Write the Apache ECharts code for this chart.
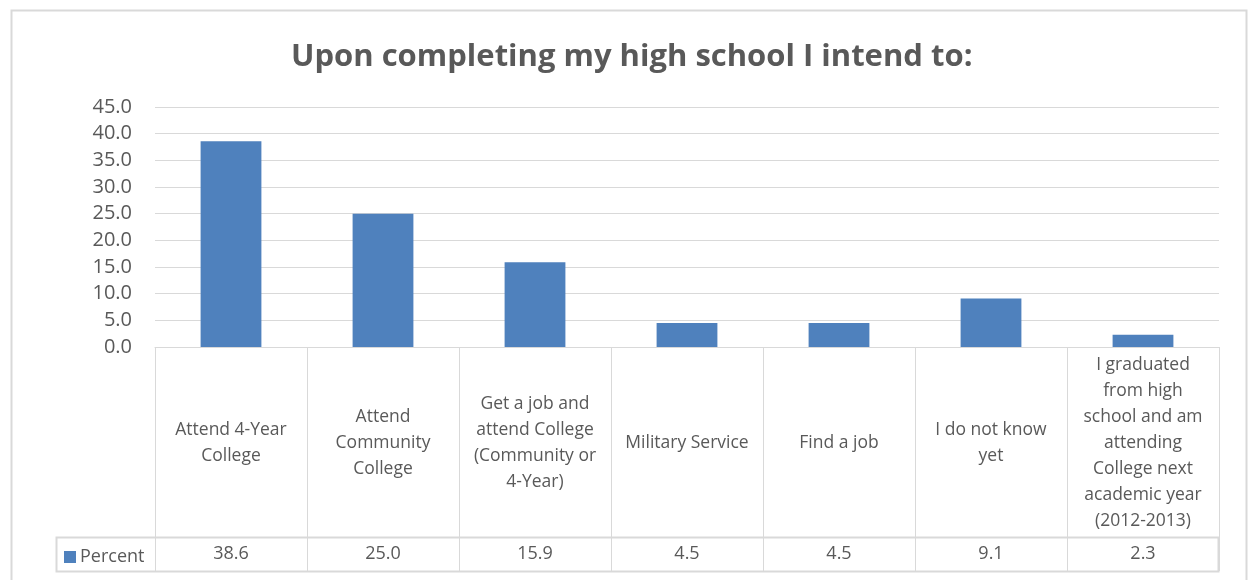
<!DOCTYPE html>
<html>
<head>
<meta charset="utf-8">
<script src="https://cdn.jsdelivr.net/npm/echarts@6/dist/echarts.min.js"></script>
<style>
    html, body { margin: 0; padding: 0; background: #fff; }
    #chart { width: 1248px; height: 580px; }
</style>
</head>
<body>
<div id="chart"></div>
<script>
// data
var categories = [
    'Attend 4-Year\nCollege',
    'Attend\nCommunity\nCollege',
    'Get a job and\nattend College\n(Community or\n4-Year)',
    'Military Service',
    'Find a job',
    'I do not know\nyet',
    'I graduated\nfrom high\nschool and am\nattending\nCollege next\nacademic year\n(2012-2013)'
];
var percent = [38.6, 25.0, 15.9, 4.5, 4.5, 9.1, 2.3];
var yTicks = [0, 5, 10, 15, 20, 25, 30, 35, 40, 45];

var textColor = '#595959';
var lineColor = '#d9d9d9';
var font = '"Open Sans", sans-serif';

var chart = echarts.init(document.getElementById('chart'));

chart.setOption({
    animation: false,
    title: {
        text: 'Upon completing my high school I intend to:',
        left: 286,
        top: 37,
        textStyle: {
            fontFamily: font,
            fontSize: 31,
            fontWeight: 'bold',
            color: textColor
        }
    },
    legend: {
        data: ['Percent'],
        left: 59,
        top: 543,
        icon: 'rect',
        itemWidth: 12,
        itemHeight: 12,
        itemGap: 4,
        textStyle: { fontFamily: font, fontSize: 18, color: textColor, padding: [0, 0, 0, -1] }
    },
    grid: { left: 155, right: 29, top: 107, bottom: 233 },
    xAxis: [
        {
            type: 'category',
            data: categories,
            axisLine: { show: true, lineStyle: { color: lineColor, width: 1 } },
            axisTick: { show: true, alignWithLabel: false, length: 224, lineStyle: { color: lineColor, width: 1 } },
            axisLabel: {
                interval: 0,
                margin: 96,
                verticalAlign: 'middle',
                fontFamily: font,
                fontSize: 17.5,
                lineHeight: 26,
                color: textColor
            }
        },
        {
            type: 'category',
            data: categories,
            position: 'bottom',
            offset: 190,
            axisLine: { show: true, lineStyle: { color: lineColor, width: 1 } },
            axisTick: { show: false },
            axisLabel: {
                interval: 0,
                margin: 17,
                verticalAlign: 'middle',
                fontFamily: font,
                fontSize: 18,
                color: textColor,
                formatter: function (v, i) { return percent[i].toFixed(1); }
            }
        }
    ],
    yAxis: {
        type: 'value',
        min: yTicks[0],
        max: yTicks[yTicks.length - 1],
        interval: 5,
        axisLine: { show: false },
        axisTick: { show: false },
        splitLine: { lineStyle: { color: lineColor, width: 1 } },
        axisLabel: {
            margin: 23,
            fontFamily: font,
            fontSize: 20,
            color: textColor,
            formatter: function (v) { return v.toFixed(1); }
        }
    },
    series: [
        {
            name: 'Percent',
            type: 'bar',
            data: percent,
            barWidth: '40%',
            itemStyle: { color: '#4f81bd' }
        }
    ],
    graphic: [
        // outer chart border
        { type: 'rect', shape: { x: 11.5, y: 10.5, width: 1235, height: 600 }, style: { fill: 'none', stroke: lineColor, lineWidth: 2 }, silent: true },
        // legend cell of the data table
        { type: 'rect', shape: { x: 56.5, y: 537.5, width: 1162, height: 34 }, style: { fill: 'none', stroke: lineColor, lineWidth: 2 }, silent: true }
    ]
});
</script>
</body>
</html>
